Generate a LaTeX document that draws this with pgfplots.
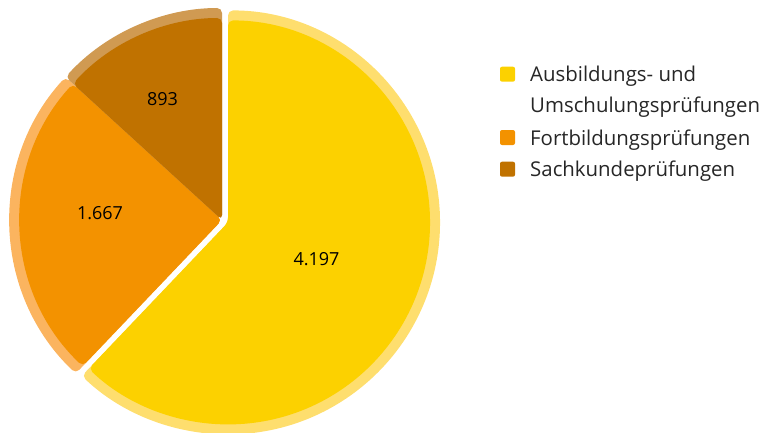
\documentclass[border=0pt]{standalone}
\usepackage{pgfplots}
\pgfplotsset{compat=1.18}
\usepackage{pgfplotstable}
\usepackage{fontspec}
\setmainfont{Open Sans}

\definecolor{cA}{HTML}{FCD100}
\definecolor{cB}{HTML}{F39200}
\definecolor{cC}{HTML}{C07200}
\definecolor{bA}{HTML}{FEDE6E}
\definecolor{bB}{HTML}{FBB45F}
\definecolor{bC}{HTML}{D09A52}
\definecolor{txt}{HTML}{262626}

\pgfplotstableread{
value
4197
1667
893
}\piedata

\begin{document}
\begin{tikzpicture}
\pgfplotstablegetelem{0}{value}\of\piedata \let\va\pgfplotsretval
\pgfplotstablegetelem{1}{value}\of\piedata \let\vb\pgfplotsretval
\pgfplotstablegetelem{2}{value}\of\piedata \let\vc\pgfplotsretval
\pgfmathsetmacro\total{\va/1000+\vb/1000+\vc/1000}
\pgfmathsetmacro\aA{90-360*((\va/1000)/\total)}
\pgfmathsetmacro\aB{\aA-360*((\vb/1000)/\total)}
\pgfmathsetmacro\aC{\aB-360*((\vc/1000)/\total)}
\pgfmathsetmacro\mA{(90+\aA)/2}
\pgfmathsetmacro\exA{6.5}
\begin{axis}[
  x=1pt, y=1pt,
  xmin=0, xmax=767, ymin=0, ymax=432,
  hide axis, clip=false,
]
\coordinate (bl) at (axis cs:0,0);
\coordinate (tr) at (axis cs:767,432);
\coordinate (C) at (axis cs:222,212);
% yellow slice (exploded)
\fill[bA, rounded corners=5pt] ([shift={(\mA:\exA pt)}]C) -- ++(90:212pt) arc[start angle=90, end angle=\aA, radius=212pt] -- cycle;
\fill[cA, rounded corners=5pt] ([shift={(\mA:\exA pt)}]C) -- ++(90:202pt) arc[start angle=90, end angle=\aA, radius=202pt] -- cycle;
% orange slice
\fill[bB, rounded corners=5pt] (C) -- ++(\aA:212pt) arc[start angle=\aA, end angle=\aB, radius=212pt] -- cycle;
\fill[cB, rounded corners=5pt] (C) -- ++(\aA:202pt) arc[start angle=\aA, end angle=\aB, radius=202pt] -- cycle;
% brown slice
\fill[bC, rounded corners=5pt] (C) -- ++(\aB:212pt) arc[start angle=\aB, end angle=\aC, radius=212pt] -- cycle;
\fill[cC, rounded corners=5pt] (C) -- ++(\aB:202pt) arc[start angle=\aB, end angle=\aC, radius=202pt] -- cycle;
% slice labels
\node[font=\fontsize{18}{21}\selectfont, text=black] at (axis cs:316.5,173) {4.197};
\node[font=\fontsize{18}{21}\selectfont, text=black] at (axis cs:100,218.7) {1.667};
\node[font=\fontsize{18}{21}\selectfont, text=black] at (axis cs:162.5,332.7) {893};
% legend
\fill[cA, rounded corners=2pt] (axis cs:500,350.3) rectangle (axis cs:515,365.3);
\fill[cB, rounded corners=2pt] (axis cs:500,287) rectangle (axis cs:515,302);
\fill[cC, rounded corners=2pt] (axis cs:500,255.3) rectangle (axis cs:515,270.3);
\node[anchor=base west, inner sep=0pt, font=\fontsize{20.4}{24}\selectfont, text=txt] at (axis cs:530,350.3) {Ausbildungs- und};
\node[anchor=base west, inner sep=0pt, font=\fontsize{20.4}{24}\selectfont, text=txt] at (axis cs:530,319.7) {Umschulungsprüfungen};
\node[anchor=base west, inner sep=0pt, font=\fontsize{20.4}{24}\selectfont, text=txt] at (axis cs:530,287) {Fortbildungsprüfungen};
\node[anchor=base west, inner sep=0pt, font=\fontsize{20.4}{24}\selectfont, text=txt] at (axis cs:530,255.3) {Sachkundeprüfungen};
\end{axis}
\pgfresetboundingbox
\useasboundingbox (bl) rectangle (tr);
\end{tikzpicture}
\end{document}
